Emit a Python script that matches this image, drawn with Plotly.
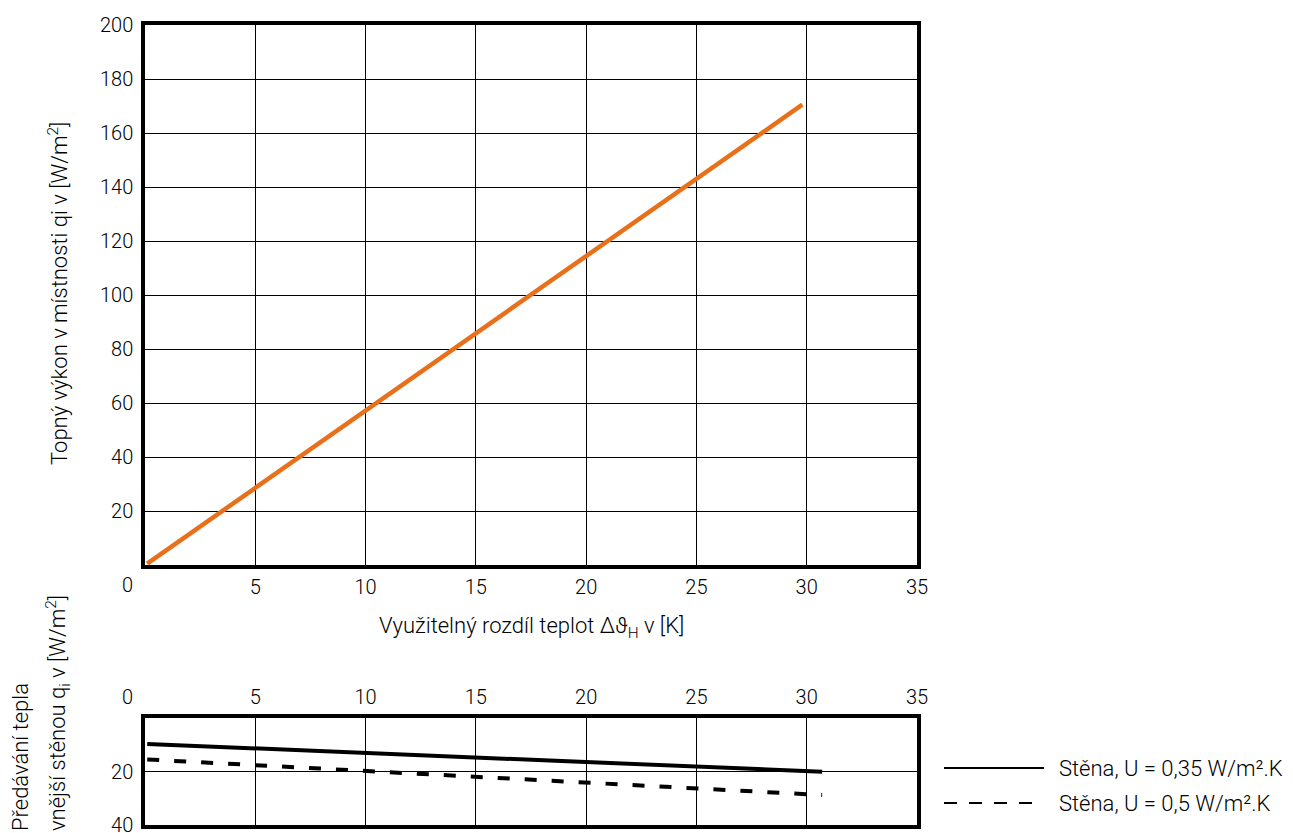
import plotly.graph_objects as go

# ---- data ----
x_ticks = [5, 10, 15, 20, 25, 30, 35]
y_ticks_top = [20, 40, 60, 80, 100, 120, 140, 160, 180, 200]
y_ticks_bottom = [20, 40]

x_heat = [0.1, 29.8]
q_heat = [0.5, 170.5]

x_wall = [0.1, 30.7]
q_wall_035 = [9.7, 20.1]
q_wall_05 = [15.5, 28.8]

legend_labels = ["Stěna, U = 0,35 W/m².K", "Stěna, U = 0,5 W/m².K"]

W, H = 1293, 833
TICKFONT = dict(family="Roboto", size=20, color="#000000", weight=300)
FONT = dict(family="Roboto", size=22, color="#000000", weight=300)

def px_x(p):
    return p / W

def px_y(p):
    return 1 - p / H

fig = go.Figure()

fig.add_trace(go.Scatter(x=x_heat, y=q_heat, mode="lines",
                         line=dict(color="#E8701A", width=4.5),
                         xaxis="x", yaxis="y", showlegend=False))
fig.add_trace(go.Scatter(x=x_wall, y=q_wall_035, mode="lines",
                         line=dict(color="black", width=4),
                         xaxis="x2", yaxis="y2", showlegend=False))
fig.add_trace(go.Scatter(x=x_wall, y=q_wall_05, mode="lines",
                         line=dict(color="black", width=4, dash="12px,15px"),
                         xaxis="x2", yaxis="y2", showlegend=False))

x_dom = [px_x(145), px_x(917)]
axis_common = dict(showline=True, mirror=True, linecolor="black", linewidth=3.5,
                   showgrid=True, gridcolor="black", gridwidth=1, zeroline=False,
                   ticks="outside", tickcolor="rgba(0,0,0,0)", automargin=False,
                   tickfont=TICKFONT, fixedrange=True, ticklabeloverflow="allow")

fig.update_layout(
    width=W, height=H,
    margin=dict(l=0, r=0, t=0, b=0),
    paper_bgcolor="white", plot_bgcolor="white",
    font=FONT,
    xaxis=dict(domain=x_dom, range=[0, 35], tickvals=x_ticks, ticklen=1,
               anchor="y", **axis_common),
    yaxis=dict(domain=[px_y(565), px_y(25)], range=[0, 200], tickvals=y_ticks_top,
               ticklen=4, anchor="x", **axis_common),
    xaxis2=dict(domain=x_dom, range=[0, 35], tickvals=x_ticks, ticklen=2,
                side="top", anchor="y2", **axis_common),
    yaxis2=dict(domain=[px_y(825), px_y(718)], range=[40, 0], tickvals=y_ticks_bottom,
                ticklen=4, anchor="x2", **axis_common),
    showlegend=False,
)

def note(xp, yp, text, font=FONT, xanchor="center", yanchor="middle", angle=0):
    return dict(x=px_x(xp), y=px_y(yp), text=text, showarrow=False,
                xref="paper", yref="paper", font=font,
                xanchor=xanchor, yanchor=yanchor, textangle=angle)

ann = [
    # corner "0" labels
    note(127, 585, "0", TICKFONT),
    note(127, 697, "0", TICKFONT),
    # axis titles
    note(531, 627, "Využitelný rozdíl teplot Δϑ<sub>H</sub> v [K]"),
    note(58, 294, "Topný výkon v místnosti qi v [W/m<sup>2</sup>]", angle=-90),
    note(58, 833, "vnější stěnou q<sub>i</sub> v [W/m<sup>2</sup>]", yanchor="bottom", angle=-90),
    note(20, 833, "Předávání tepla", yanchor="bottom", angle=-90),
    # legend texts
    note(1057, 768, legend_labels[0], xanchor="left"),
    note(1057, 803, legend_labels[1], xanchor="left"),
]

shapes = [
    dict(type="line", xref="paper", yref="paper", x0=px_x(944), x1=px_x(1044),
         y0=px_y(768), y1=px_y(768), line=dict(color="black", width=2)),
    dict(type="line", xref="paper", yref="paper", x0=px_x(944), x1=px_x(1044),
         y0=px_y(803), y1=px_y(803), line=dict(color="black", width=2, dash="13px,12px")),
]

fig.update_layout(annotations=ann, shapes=shapes)

fig.write_html("out.html", config={"displayModeBar": False},
               post_script="document.body.style.margin='0';document.body.style.overflow='hidden';")
